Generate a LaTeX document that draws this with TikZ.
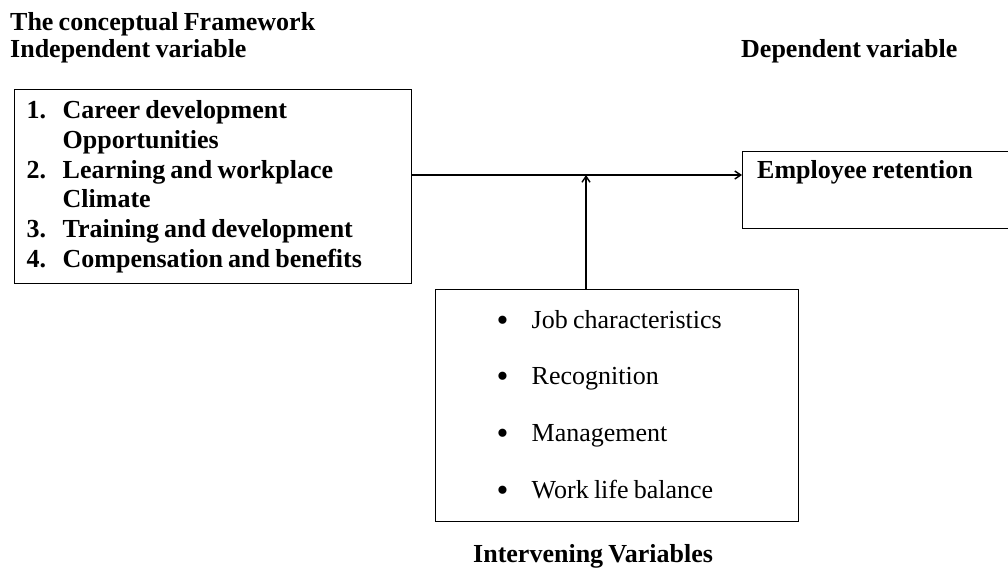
\documentclass[tikz,border=0pt]{standalone}
\usepackage{fontspec}
\setmainfont[WordSpace=0.8]{Liberation Serif}
\usetikzlibrary{arrows.meta}

\newcommand{\bigbullet}{\raisebox{-3pt}{\fontsize{34}{34}\selectfont\textbullet}}

\begin{document}
\begin{tikzpicture}[
        x=1pt, y=-1pt,
        box/.style={rectangle, draw, line width=1.4pt, inner sep=0pt},
        head/.style={font=\fontsize{26}{30}\selectfont\bfseries, inner sep=0pt},
        arrow/.style={-{Straight Barb[length=6pt,width=8pt]}, line width=1.4pt}
    ]
        \useasboundingbox (0,0) rectangle (1008,567);
        \clip (0,0) rectangle (1008,567);

        % Headings
        \node[head, anchor=base west] (title) at (10,31) {The conceptual Framework};
        \node[head, anchor=base west] (indlabel) at (10,58) {Independent variable};
        \node[head, anchor=base west] (deplabel) at (741,58) {Dependent variable};
        \node[head, anchor=base west] (intlabel) at (473,562) {Intervening Variables};

        % Independent variables
        \node[box, anchor=north west, minimum width=397pt, minimum height=194pt,
              text width=373pt, inner xsep=12pt, align=flush left,
              font=\fontsize{26}{29.8}\selectfont\bfseries] (indep) at (14,89)
            {\makebox[36pt][l]{1.}Career development\\
             \hspace*{36pt}Opportunities\\
             \makebox[36pt][l]{2.}Learning and workplace\\
             \hspace*{36pt}Climate\\
             \makebox[36pt][l]{3.}Training and development\\
             \makebox[36pt][l]{4.}Compensation and benefits};

        % Dependent variable
        \node[box, anchor=north west, minimum width=320pt, minimum height=77pt] (retbox) at (742,151) {};
        \node[head, anchor=base west] (ret) at (757,178) {Employee retention};

        % Intervening variables
        \node[box, anchor=north west, minimum width=363pt, minimum height=232pt,
              text width=241pt, inner xsep=61pt, align=flush left,
              font=\fontsize{26}{56.6}\selectfont] (interv) at (435,289)
            {\makebox[35pt][l]{\bigbullet}Job characteristics\\
             \makebox[35pt][l]{\bigbullet}Recognition\\
             \makebox[35pt][l]{\bigbullet}Management\\
             \makebox[35pt][l]{\bigbullet}Work life balance};

        % Arrows
        \coordinate (join) at (586,175);
        \draw[arrow] (indep.east |- join) -- (retbox.west |- join);
        \draw[arrow] (interv.north -| join) -- (join);

    \end{tikzpicture}
\end{document}
